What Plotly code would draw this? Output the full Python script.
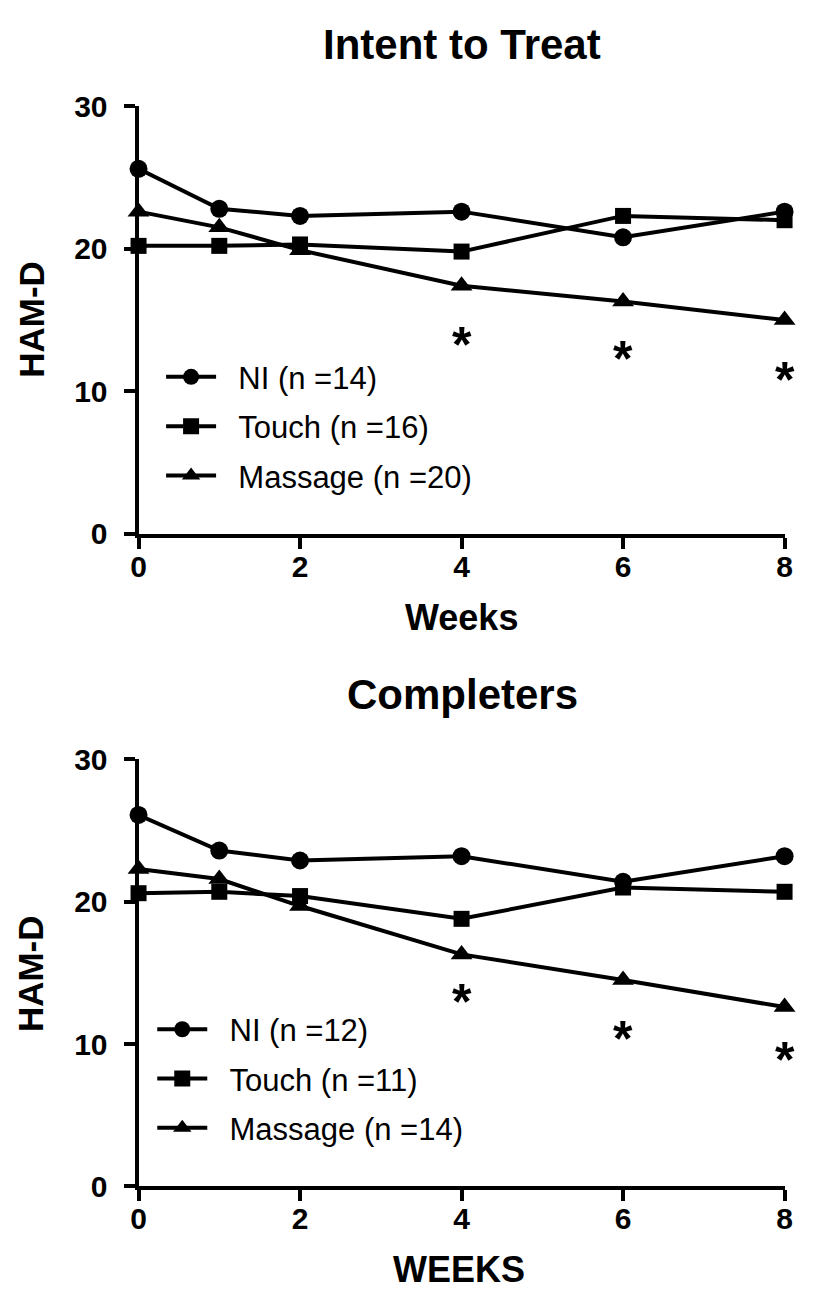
import plotly.graph_objects as go

W, H = 813, 1293

weeks = [0, 1, 2, 4, 6, 8]

itt_ni = [25.6, 22.8, 22.3, 22.6, 20.8, 22.6]
itt_touch = [20.2, 20.2, 20.3, 19.8, 22.3, 22.0]
itt_massage = [22.6, 21.5, 19.9, 17.4, 16.3, 15.0]
itt_star_weeks = [4, 6, 8]
itt_star_y = [13.7, 12.7, 11.2]

comp_ni = [26.1, 23.6, 22.9, 23.2, 21.4, 23.2]
comp_touch = [20.6, 20.7, 20.4, 18.8, 21.0, 20.7]
comp_massage = [22.3, 21.6, 19.7, 16.3, 14.5, 12.6]
comp_star_weeks = [4, 6, 8]
comp_star_y = [13.4, 10.8, 9.3]

itt_names = ["NI (n =14)", "Touch (n =16)", "Massage (n =20)"]
comp_names = ["NI (n =12)", "Touch (n =11)", "Massage (n =14)"]

x_ticks = [0, 2, 4, 6, 8]
y_ticks = [0, 10, 20, 30]

FONT = "Liberation Sans, Arial, sans-serif"


def px_x(p):
    return p / W


def px_y(p):
    return 1 - p / H


fig = go.Figure()

symbols = ["circle", "square", "triangle-up"]
sizes = [18, 16, 19]


def add_panel(series, names, star_x, star_y, xa, ya, legend):
    for i, (vals, nm) in enumerate(zip(series, names)):
        fig.add_trace(go.Scatter(
            x=weeks, y=vals, mode="lines+markers", name="\u00a0\u00a0" + nm,
            line=dict(color="black", width=4),
            marker=dict(symbol=symbols[i], size=sizes[i], color="black"),
            xaxis=xa, yaxis=ya, legend=legend, legendgroup=legend + str(i),
            cliponaxis=False,
        ))
    for sx, sy in zip(star_x, star_y):
        fig.add_annotation(x=sx, y=sy, xref=xa, yref=ya, text="*", showarrow=False,
                           yshift=-6, xanchor="center", yanchor="middle",
                           font=dict(family=FONT, size=50, color="black", weight="bold"))


add_panel([itt_ni, itt_touch, itt_massage], itt_names, itt_star_weeks, itt_star_y, "x", "y", "legend")
add_panel([comp_ni, comp_touch, comp_massage], comp_names, comp_star_weeks, comp_star_y, "x2", "y2", "legend2")

axis_common = dict(
    showline=True, linecolor="black", linewidth=4, ticks="outside",
    ticklen=11, tickwidth=4, tickcolor="black", showgrid=False, zeroline=False,
    tickfont=dict(family=FONT, size=30, color="black", weight="bold"),
    fixedrange=True,
)

xdom = [px_x(125), px_x(784)]
leg_common = dict(xanchor="left", yanchor="top",
                  font=dict(family=FONT, size=31, color="black"),
                  bgcolor="rgba(0,0,0,0)", itemwidth=50, tracegroupgap=6,
                  traceorder="grouped", borderwidth=0)
fig.update_layout(
    width=W, height=H, margin=dict(l=0, r=0, t=0, b=0),
    paper_bgcolor="white", plot_bgcolor="white",
    xaxis=dict(domain=xdom, range=[0, 8], tickvals=x_ticks, anchor="y", ticklabelstandoff=-8, **axis_common),
    yaxis=dict(domain=[px_y(522.7), px_y(83.3)], range=[0, 30], tickvals=y_ticks, anchor="x", ticklabelstandoff=10, **axis_common),
    xaxis2=dict(domain=xdom, range=[0, 8], tickvals=x_ticks, anchor="y2", ticklabelstandoff=-8, **axis_common),
    yaxis2=dict(domain=[px_y(1192.7), px_y(754.3)], range=[0, 30], tickvals=y_ticks, anchor="x2", ticklabelstandoff=10, **axis_common),
    legend=dict(x=px_x(148), y=px_y(334), **leg_common),
    legend2=dict(x=px_x(139), y=px_y(1004), **leg_common),
    showlegend=True,
)

ann_font_title = dict(family=FONT, size=42, color="black", weight="bold")
ann_font_axis = dict(family=FONT, size=36, color="black", weight="bold")
ham_font = dict(family=FONT, size=35, color="black", weight="bold")
anns = [
    dict(text="Intent to Treat", x=px_x(455), y=px_y(20), font=ann_font_title),
    dict(text="Completers", x=px_x(455), y=px_y(688), font=ann_font_title),
    dict(text="Weeks", x=px_x(454), y=px_y(609), font=ann_font_axis),
    dict(text="WEEKS", x=px_x(452), y=px_y(1278), font=ann_font_axis),
    dict(text="HAM-D", x=px_x(15), y=px_y(302), font=ham_font, textangle=-90),
    dict(text="HAM-D", x=px_x(15), y=px_y(974), font=ham_font, textangle=-90),
]
for a in anns:
    fig.add_annotation(xref="paper", yref="paper", showarrow=False,
                       xanchor="center", yanchor="middle", **a)

fig.write_html("out.html")
